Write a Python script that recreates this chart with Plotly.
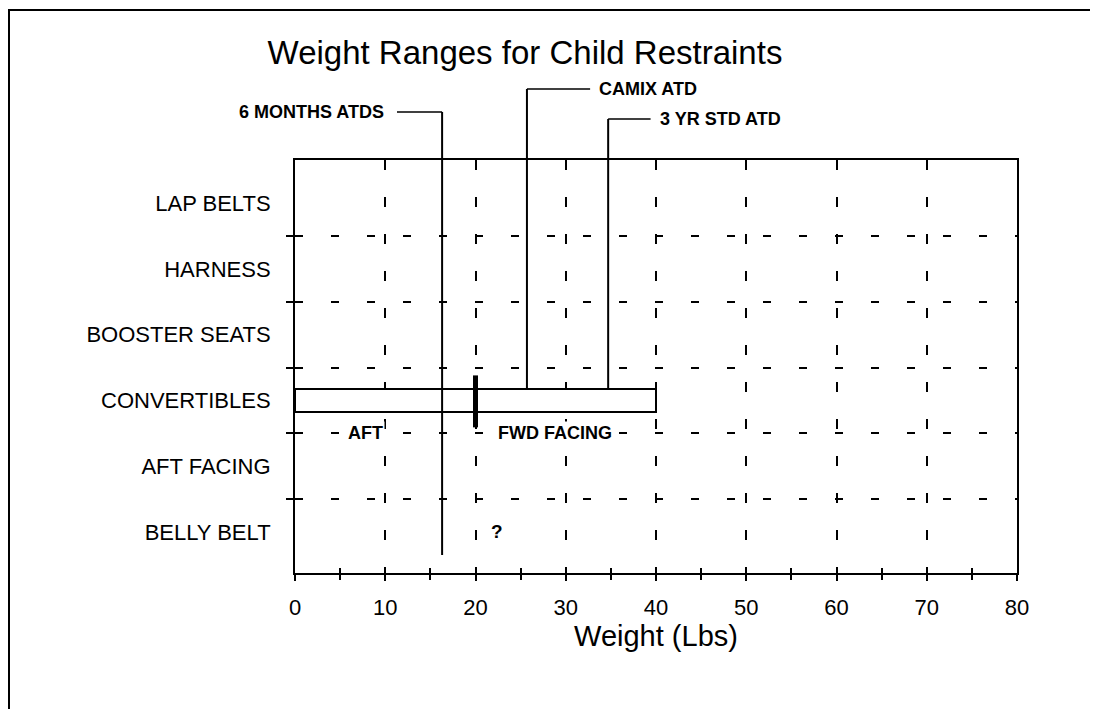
import plotly.graph_objects as go

# ---------------- data ----------------
categories = ["BELLY BELT", "AFT FACING", "CONVERTIBLES", "BOOSTER SEATS", "HARNESS", "LAP BELTS"]
row_index = list(range(len(categories)))
row_boundaries = [0.5, 1.5, 2.5, 3.5, 4.5]

bar_category = ["CONVERTIBLES"]
bar_start = [0]
bar_end = [40]

split_weight = [20, 20]            # aft -> forward facing transition mark
split_rows = [1.59, 2.38]

atd_names = ["6 MONTHS ATDS", "CAMIX ATD", "3 YR STD ATD"]
atd_weights = [16.3, 25.7, 34.7]

x_ticks = [0, 10, 20, 30, 40, 50, 60, 70, 80]
x_tick_labels = ["0", "10", "20", "30", "40", "50", "60", "70", "80"]

# ---------------- layout constants ----------------
X_RANGE = [0, 80]
Y_RANGE = [-0.625, 5.656]
BAR_W = 0.34
FONT = "Arial, Liberation Sans, Helvetica, sans-serif"
W, H = 1090, 701
ML, MT, PW, PH = 287, 152, 722, 413

def xd(v):
    return (v - X_RANGE[0]) / (X_RANGE[1] - X_RANGE[0])

def yd(v):
    return (v - Y_RANGE[0]) / (Y_RANGE[1] - Y_RANGE[0])

bar_rows = [categories.index(c) for c in bar_category]

fig = go.Figure()

fig.add_trace(go.Bar(
    y=bar_rows, x=[e - s for s, e in zip(bar_start, bar_end)], base=bar_start,
    orientation="h", width=BAR_W,
    marker=dict(color="white", line=dict(color="black", width=2)),
    hoverinfo="skip", showlegend=False,
))

fig.add_trace(go.Scatter(
    x=split_weight, y=split_rows, mode="lines",
    line=dict(color="black", width=5), showlegend=False, hoverinfo="skip",
))

# invisible trace for overlay axis (crossing ticks)
fig.add_trace(go.Scatter(x=[X_RANGE[0]], y=[Y_RANGE[0]], xaxis="x2", mode="markers",
                         marker=dict(opacity=0), showlegend=False, hoverinfo="skip"))

shapes = []
annotations = []

# leader lines for ATD markers
conv_top = yd(bar_rows[0] + BAR_W / 2)
leader = [
    # (label level in y-domain, horizontal length in lbs, bottom in y-domain)
    (1.116, -5.0, yd(-0.35)),
    (1.172, 7.0, conv_top),
    (1.099, 4.7, conv_top),
]
for name, w, (lvl, hlen, bottom) in zip(atd_names, atd_weights, leader):
    shapes.append(dict(type="line", xref="x domain", yref="y domain",
                       x0=xd(w), x1=xd(w), y0=bottom, y1=lvl,
                       line=dict(color="black", width=2)))
    shapes.append(dict(type="line", xref="x domain", yref="y domain",
                       x0=xd(w), x1=xd(w + hlen), y0=lvl, y1=lvl,
                       line=dict(color="black", width=1.5)))
    if hlen < 0:
        annotations.append(dict(x=w + hlen - 1.2, y=lvl, xref="x", yref="y domain",
                                text="<b>" + name + "</b>", showarrow=False,
                                xanchor="right", yanchor="middle",
                                font=dict(size=18, color="black", family=FONT)))
    else:
        annotations.append(dict(x=w + hlen + 0.8, y=lvl, xref="x", yref="y domain",
                                text="<b>" + name + "</b>", showarrow=False,
                                xanchor="left", yanchor="middle",
                                font=dict(size=18, color="black", family=FONT)))

# AFT / FWD FACING / ? labels
annotations.append(dict(x=7.8, y=1.5, xref="x", yref="y", text="<b>AFT</b>",
                        showarrow=False, bgcolor="white",
                        font=dict(size=18, color="black", family=FONT)))
annotations.append(dict(x=28.8, y=1.5, xref="x", yref="y", text="<b>FWD FACING</b>",
                        showarrow=False, bgcolor="white",
                        font=dict(size=18, color="black", family=FONT)))
annotations.append(dict(x=22.4, y=0.0, xref="x", yref="y", text="<b>?</b>",
                        showarrow=False,
                        font=dict(size=19, color="black", family=FONT)))

# outer frame around the figure
shapes.append(dict(type="rect", xref="paper", yref="paper",
                   x0=(1 - ML) / PW, x1=(W + 10 - ML) / PW,
                   y0=(MT + PH - (H + 10)) / PH, y1=(MT + PH - 2) / PH,
                   line=dict(color="black", width=2), layer="below"))

fig.update_layout(
    width=W, height=H,
    margin=dict(l=ML, r=W - ML - PW, t=MT, b=H - MT - PH),
    paper_bgcolor="white", plot_bgcolor="white",
    font=dict(family=FONT, color="black"),
    title=dict(text="Weight Ranges for Child Restraints", x=517 / W, xref="container",
               y=1 - 44 / H, yref="container", xanchor="center", yanchor="middle",
               font=dict(size=33, family=FONT, color="black")),
    bargap=0,
    showlegend=False,
    shapes=shapes,
    annotations=annotations,
    xaxis=dict(
        range=X_RANGE, tickmode="array", tickvals=x_ticks, ticktext=x_tick_labels,
        showgrid=True, gridcolor="black", gridwidth=1.5, griddash="10px,27px",
        zeroline=False, showline=True, linecolor="black", linewidth=2, mirror=True,
        ticks="outside", ticklen=6, tickwidth=2, tickcolor="black",
        minor=dict(dtick=5, tick0=0, ticks="outside", ticklen=5, tickwidth=2,
                   tickcolor="black", showgrid=False),
        tickfont=dict(size=22, family=FONT, color="black"),
        ticklabelstandoff=8,
        title=dict(text="Weight (Lbs)", font=dict(size=29, family=FONT, color="black"),
                   standoff=2),
    ),
    xaxis2=dict(
        range=X_RANGE, overlaying="x", anchor="y", side="bottom",
        dtick=5, tick0=0, ticks="inside", ticklen=5, tickwidth=2, tickcolor="black",
        showticklabels=False, showgrid=False, zeroline=False, showline=False,
    ),
    yaxis=dict(
        range=Y_RANGE, tickmode="array", tickvals=row_index, ticktext=categories,
        showgrid=False, zeroline=False, showline=True, linecolor="black",
        linewidth=2, mirror=True, ticks="",
        minor=dict(tickmode="array", tickvals=row_boundaries, ticks="outside",
                   ticklen=7, tickwidth=2, tickcolor="black", showgrid=True,
                   gridcolor="black", gridwidth=1.5, griddash="8px,28px"),
        tickfont=dict(size=22, family=FONT, color="black"),
        ticklabelstandoff=18,
    ),
)

fig.write_html("out.html")
